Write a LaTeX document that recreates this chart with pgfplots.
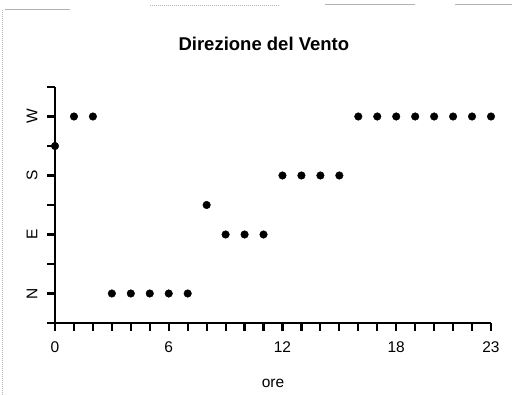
\documentclass[border=0pt]{standalone}
\usepackage{fontspec}
\setmainfont{Liberation Sans}
\usepackage{pgfplots}
\pgfplotsset{compat=1.18}
\begin{document}
\begin{tikzpicture}
\begin{axis}[
  at={(0,0)}, anchor=south west,
  scale only axis, width=436pt, height=236pt,
  xmin=0, xmax=23, ymin=-45, ymax=315,
  axis x line=bottom, axis y line=left,
  axis line style={-, line width=2.3pt, black},
  every tick/.style={black, line width=2.2pt},
  tick align=outside, major tick length=8pt,
  xtick={0,...,23},
  xticklabels={0,,,,,,6,,,,,,12,,,,,,18,,,,,23},
  ytick={-45,0,45,90,135,180,225,270,315},
  yticklabels={,N,,E,,S,,W,},
  ticklabel style={font=\fontsize{15.5}{18}\selectfont},
  xticklabel style={yshift=-7pt},
  yticklabel style={rotate=90, anchor=south, yshift=6pt},
  xlabel={ore},
  xlabel style={font=\fontsize{15.5}{18}\selectfont, at={(axis description cs:0.5,0)}, anchor=base, yshift=-65pt},
  title={Direzione del Vento},
  title style={font=\bfseries\fontsize{18.5}{22}\selectfont, at={(axis description cs:0.479,1)}, anchor=base, yshift=30pt},
  clip=false,
]
\addplot[only marks, mark=*, mark size=3.8pt, black] coordinates {
(0,225) (1,270) (2,270) (3,0) (4,0) (5,0) (6,0) (7,0) (8,135)
(9,90) (10,90) (11,90) (12,180) (13,180) (14,180) (15,180)
(16,270) (17,270) (18,270) (19,270) (20,270) (21,270) (22,270) (23,270)
};
\end{axis}
\draw[gray!60, line width=1pt, densely dotted] (-52pt,313pt) -- (-52pt,-72pt);
\draw[gray!60, line width=1pt] (-50pt,313pt) -- (15pt,313pt);
\draw[gray!60, line width=1pt, densely dotted] (95pt,317pt) -- (225pt,317pt);
\draw[gray!60, line width=1pt] (270pt,318pt) -- (360pt,318pt);
\draw[gray!60, line width=1pt] (400pt,318pt) -- (457pt,318pt);
\pgfresetboundingbox
\useasboundingbox (-55pt,-72pt) rectangle (460pt,323pt);
\end{tikzpicture}
\end{document}
